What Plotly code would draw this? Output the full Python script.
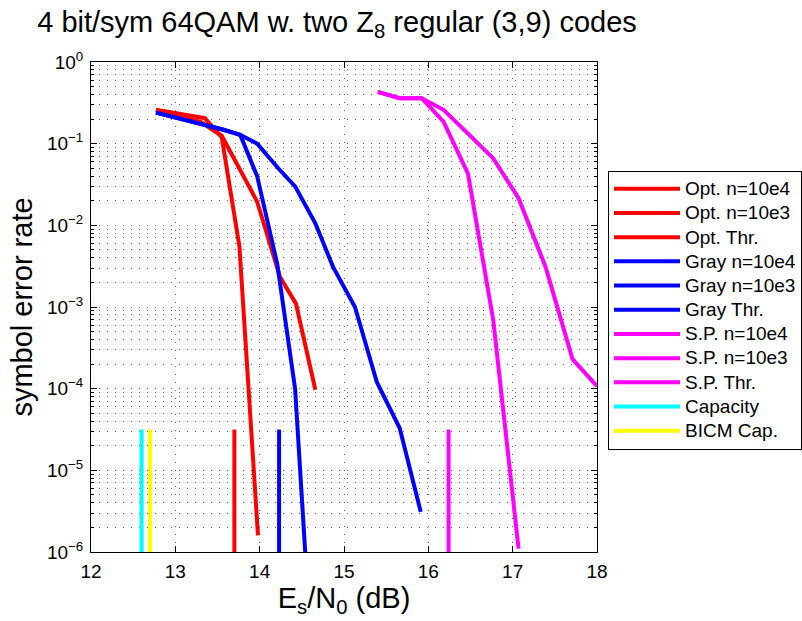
import plotly.graph_objects as go

# Es/N0 (dB) and symbol error rate for each simulated curve
opt_n4_x = [12.77, 13.35, 13.55, 13.76, 13.98]
opt_n4_y = [0.26, 0.205, 0.12, 5.5e-3, 1.6e-6]
opt_n3_x = [12.77, 13.30, 13.55, 13.97, 14.24, 14.43, 14.66]
opt_n3_y = [0.255, 0.185, 0.125, 0.0195, 2.35e-3, 1.1e-3, 9.7e-5]

gray_n4_x = [12.77, 13.35, 13.55, 13.77, 13.97, 14.21, 14.42, 14.54]
gray_n4_y = [0.24, 0.17, 0.15, 0.128, 0.04, 3.3e-3, 1.0e-4, 1.0e-6]
gray_n3_x = [12.77, 13.35, 13.55, 13.77, 13.97, 14.22, 14.42, 14.66,
             14.87, 15.13, 15.39, 15.66, 15.91]
gray_n3_y = [0.24, 0.17, 0.15, 0.128, 0.1, 0.05, 0.03, 0.0106,
             3.1e-3, 1.0e-3, 1.2e-4, 3.3e-5, 3.1e-6]

sp_n4_x = [15.40, 15.66, 15.92, 16.18, 16.47, 16.77, 17.07]
sp_n4_y = [0.43, 0.36, 0.36, 0.186, 0.043, 6.9e-4, 1.1e-6]
sp_n3_x = [15.40, 15.66, 15.92, 16.18, 16.48, 16.77, 17.07, 17.39, 17.71, 18.0]
sp_n3_y = [0.43, 0.36, 0.36, 0.26, 0.13, 0.066, 0.0215, 3.1e-3, 2.3e-4, 1.07e-4]

# Thresholds and capacity limits (dB), drawn as short vertical markers
opt_thr = 13.70
gray_thr = 14.23
sp_thr = 16.24
capacity = 12.60
bicm_capacity = 12.70
marker_span = [1e-6, 3.16e-5]

x_ticks = [12, 13, 14, 15, 16, 17, 18]
y_ticks = [1e-6, 1e-5, 1e-4, 1e-3, 1e-2, 1e-1, 1]
y_tick_labels = ["10<sup>\u22126</sup>", "10<sup>\u22125</sup>", "10<sup>\u22124</sup>",
                 "10<sup>\u22123</sup>", "10<sup>\u22122</sup>", "10<sup>\u22121</sup>",
                 "10<sup>0</sup>"]
y_minor = [m * 10.0 ** e for e in range(-6, 0) for m in range(2, 10)]

RED, BLUE, MAG, CYAN, YEL = "#ff0000", "#0000ff", "#ff00ff", "#00ffff", "#ffff00"
FONT = "Liberation Sans, Arial, Helvetica, sans-serif"
LW = 4


def lbl(text):
    # legend text is drawn larger than the legend font that sets row spacing
    return '<span style="font-size:19px">' + text + "</span>"


fig = go.Figure()


def curve(x, y, color, name):
    fig.add_trace(go.Scatter(x=x, y=y, mode="lines", name=lbl(name),
                             line=dict(color=color, width=LW)))


def marker(xv, color, name):
    fig.add_trace(go.Scatter(x=[xv, xv], y=marker_span, mode="lines", name=lbl(name),
                             line=dict(color=color, width=LW)))


curve(opt_n4_x, opt_n4_y, RED, "Opt. n=10e4")
curve(opt_n3_x, opt_n3_y, RED, "Opt. n=10e3")
marker(opt_thr, RED, "Opt. Thr.")
curve(gray_n4_x, gray_n4_y, BLUE, "Gray n=10e4")
curve(gray_n3_x, gray_n3_y, BLUE, "Gray n=10e3")
marker(gray_thr, BLUE, "Gray Thr.")
curve(sp_n4_x, sp_n4_y, MAG, "S.P. n=10e4")
curve(sp_n3_x, sp_n3_y, MAG, "S.P. n=10e3")
marker(sp_thr, MAG, "S.P. Thr.")
marker(capacity, CYAN, "Capacity")
marker(bicm_capacity, YEL, "BICM Cap.")

grid = dict(showgrid=True, gridcolor="#707070", gridwidth=1, griddash="1px,7px")

fig.update_layout(
    width=802, height=621,
    margin=dict(l=91, r=205, t=62, b=69, autoexpand=False),
    paper_bgcolor="white", plot_bgcolor="white",
    font=dict(family=FONT, size=19, color="black"),
    title=dict(text="4 bit/sym 64QAM w. two Z<sub>8</sub> regular (3,9) codes",
               font=dict(size=29, family=FONT, color="black"),
               x=337 / 802, xanchor="center", xref="container",
               y=1 - 22 / 621, yanchor="middle", yref="container"),
    showlegend=True,
    legend=dict(x=(608 - 91) / 506, xanchor="left", y=(552 - 170.7) / 490, yanchor="top",
                bgcolor="white", bordercolor="black", borderwidth=1,
                font=dict(size=16.3, family=FONT, color="black"),
                itemwidth=66, tracegroupgap=0),
    xaxis=dict(range=[12, 18], tickvals=x_ticks, ticks="inside", ticklen=6,
               tickcolor="black", showline=True, linecolor="black", linewidth=1,
               mirror="allticks", zeroline=False, ticklabelstandoff=2,
               title=dict(text="E<sub>s</sub>/N<sub>0</sub> (dB)",
                          font=dict(size=29, family=FONT), standoff=4),
               **grid),
    yaxis=dict(type="log", range=[-6, 0], tickvals=y_ticks, ticktext=y_tick_labels,
               ticks="inside", ticklen=6, tickcolor="black", showline=True,
               linecolor="black", linewidth=1, mirror="allticks", zeroline=False,
               ticklabelstandoff=3,
               title=dict(text="symbol error rate", font=dict(size=29, family=FONT),
                          standoff=5),
               minor=dict(tickvals=y_minor, ticks="inside", ticklen=3, tickcolor="black",
                          **grid),
               **grid),
)

fig.write_html("out.html")
